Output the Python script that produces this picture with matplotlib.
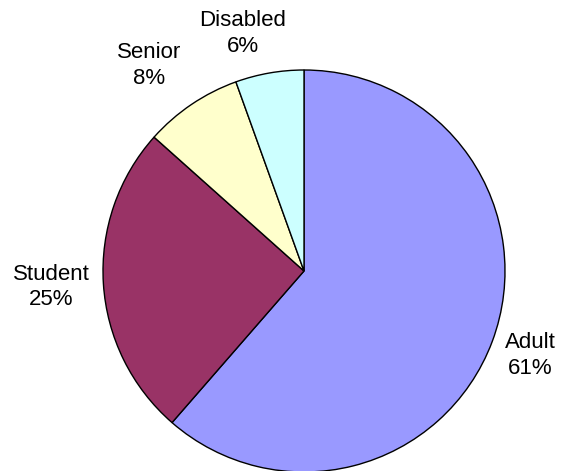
import numpy as np
import matplotlib.pyplot as plt

plt.rcParams['font.family'] = ['Liberation Sans', 'DejaVu Sans']

categories = ['Adult', 'Student', 'Senior', 'Disabled']
shares = [61.4, 25.2, 7.9, 5.5]
colors = ['#9999FF', '#993366', '#FFFFCC', '#CCFFFF']
label_dist = [1.20, 1.26, 1.28, 1.22]
label_shift = [0.0, 0.0, 3.0, 4.5]  # degrees, nudge around the circle

fig = plt.figure(figsize=(5.63, 4.71), dpi=100)
ax = fig.add_axes([103 / 563, -1 / 471, 402 / 563, 402 / 471])

wedges, _ = ax.pie(shares, colors=colors, startangle=90, counterclock=False,
                   wedgeprops=dict(edgecolor='black', linewidth=1.0))

for w, name, val, d, s in zip(wedges, categories, shares, label_dist, label_shift):
    mid = np.deg2rad((w.theta1 + w.theta2) / 2 + s)
    ax.text(d * np.cos(mid), d * np.sin(mid), '%s\n%d%%' % (name, round(val)),
            ha='center', va='center', fontsize=16, linespacing=1.3)

ax.set_xlim(-1, 1)
ax.set_ylim(-1, 1)
ax.set_aspect('equal')
ax.axis('off')

fig.savefig('out.png', dpi=100)
